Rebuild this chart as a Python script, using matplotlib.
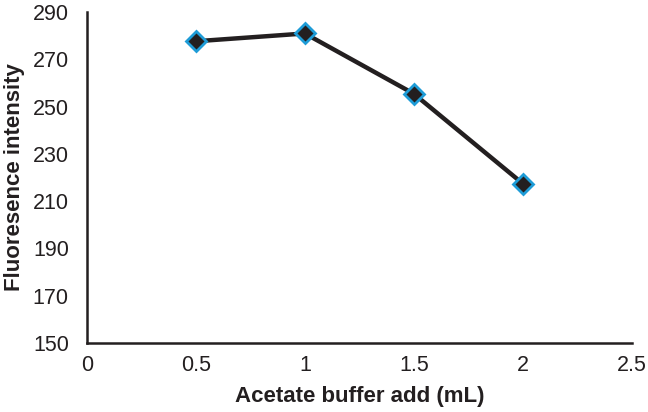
import matplotlib.pyplot as plt

plt.rcParams['font.family'] = ['Liberation Sans', 'DejaVu Sans']

# data
buffer_ml = [0.5, 1, 1.5, 2]
intensity = [277.6, 280.9, 255.4, 217.4]

fig = plt.figure(figsize=(6.48, 4.12), dpi=100)
ax = fig.add_axes([0.134, 0.1675, 0.841, 0.8035])

ax.plot(buffer_ml, intensity, color='#231f20', linewidth=3.2,
        marker='D', markersize=10, markerfacecolor='#231f20',
        markeredgecolor='#1e9cd7', markeredgewidth=2)

ax.set_xlim(0, 2.5)
ax.set_ylim(150, 290)
ax.set_xticks([0, 0.5, 1, 1.5, 2, 2.5])
ax.set_xticklabels(['0', '0.5', '1', '1.5', '2', '2.5'])
ax.set_yticks(range(150, 291, 20))
ax.tick_params(length=0, labelsize=15.5, colors='#231f20')
ax.tick_params(axis='x', pad=9)
ax.tick_params(axis='y', pad=13)

for s in ['top', 'right']:
    ax.spines[s].set_visible(False)
for s in ['left', 'bottom']:
    ax.spines[s].set_linewidth(1.8)
    ax.spines[s].set_color('#231f20')

ax.set_xlabel('Acetate buffer add (mL)', fontsize=16, fontweight='bold',
              color='#231f20', va='center')
ax.set_ylabel('Fluoresence intensity', fontsize=16, fontweight='bold',
              color='#231f20', va='center')
ax.xaxis.set_label_coords(0.5, -0.163)
ax.yaxis.set_label_coords(-0.132, 0.5)

fig.savefig('out.png', dpi=100)
